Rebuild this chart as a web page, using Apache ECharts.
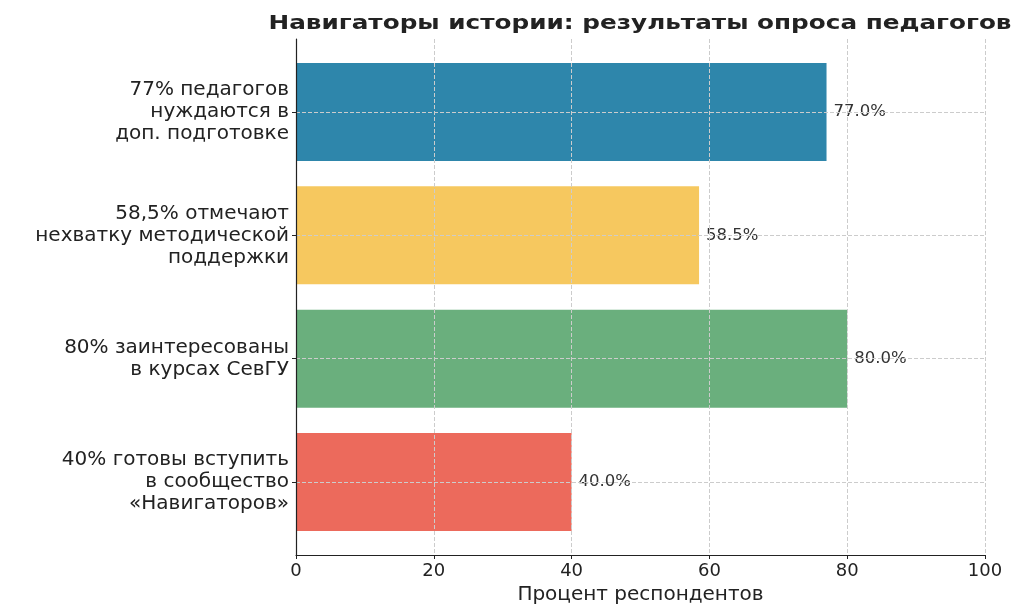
<!DOCTYPE html>
<html>
<head>
<meta charset="utf-8">
<script src="https://cdn.jsdelivr.net/npm/echarts@6/dist/echarts.min.js"></script>
<style>
  html, body { margin: 0; background: #fff; }
  #chart { width: 1024px; height: 615px; }
</style>
</head>
<body>
<div id="chart"></div>
<script>
// категории сверху вниз
const categories = [
  '77% педагогов\nнуждаются в\nдоп. подготовке',
  '58,5% отмечают\nнехватку методической\nподдержки',
  '80% заинтересованы\nв курсах СевГУ',
  '40% готовы вступить\nв сообщество\n«Навигаторов»'
]
const values = [77, 58.5, 80, 40]
const barColors = ['#2e86ab', '#f6c85f', '#6aaf7d', '#ec6a5c']
const xMin = 0
const xMax = 100
const xStep = 20

const font = 'DejaVu Sans'

let myChart = echarts.init(document.getElementById('chart'))

let option = {
  // заголовок чуть растянут по ширине, как в оригинале
  graphic: [
    {
      type: 'text',
      x: 640,
      y: 24,
      scaleX: 1.3,
      style: {
        text: 'Навигаторы истории: результаты опроса педагогов',
        font: 'bold 19px "DejaVu Sans"',
        fill: '#222',
        textAlign: 'center',
        textVerticalAlign: 'middle',
      },
    },
  ],
  grid: [
    // сетка для столбцов: центры категорий
    { left: 296, right: 39, top: 112, height: 370 },
    // сетка для осей (рамка графика)
    { left: 296, right: 39, top: 39, bottom: 60 },
  ],
  xAxis: [
    { gridIndex: 0, type: 'value', min: xMin, max: xMax, show: false },
    {
      gridIndex: 1,
      type: 'value',
      min: xMin,
      max: xMax,
      interval: xStep,
      z: 3,
      axisLine: { show: true, lineStyle: { color: '#222', width: 1.2 } },
      axisTick: { show: true, length: 4, lineStyle: { color: '#222' } },
      axisLabel: { fontFamily: font, fontSize: 18, color: '#222', margin: 7 },
      splitLine: {
        show: true,
        showMinLine: false,
        lineStyle: { color: '#ccc', type: 'dashed' },
      },
      name: 'Процент респондентов',
      nameLocation: 'middle',
      nameGap: 25,
      nameTextStyle: { fontFamily: font, fontSize: 20, color: '#222' },
    },
  ],
  yAxis: [
    {
      gridIndex: 0,
      type: 'category',
      inverse: true,
      boundaryGap: false,
      data: categories,
      z: 3,
      axisLine: { show: false },
      axisTick: { show: true, length: 4, lineStyle: { color: '#222' } },
      axisLabel: {
        fontFamily: font, fontSize: 20, color: '#222',
        lineHeight: 22, margin: 7, align: 'right',
      },
      splitLine: { show: true, lineStyle: { color: '#ccc', type: 'dashed' } },
    },
    {
      gridIndex: 1,
      type: 'value',
      min: 0,
      max: 1,
      z: 3,
      axisLine: { show: true, lineStyle: { color: '#222', width: 1.2 } },
      axisTick: { show: false },
      axisLabel: { show: false },
      splitLine: { show: false },
    },
  ],
  series: [
    {
      type: 'bar',
      xAxisIndex: 0,
      yAxisIndex: 0,
      barWidth: 98,
      clip: false,
      data: values.map((v, i) => ({ value: v, itemStyle: { color: barColors[i] } })),
      label: {
        show: true,
        position: 'right',
        distance: 7,
        fontFamily: font,
        fontSize: 16.5,
        color: '#333',
        formatter: (p) => p.value.toFixed(1) + '%',
      },
    },
  ],
}

myChart.setOption(option)
</script>
</body>
</html>
